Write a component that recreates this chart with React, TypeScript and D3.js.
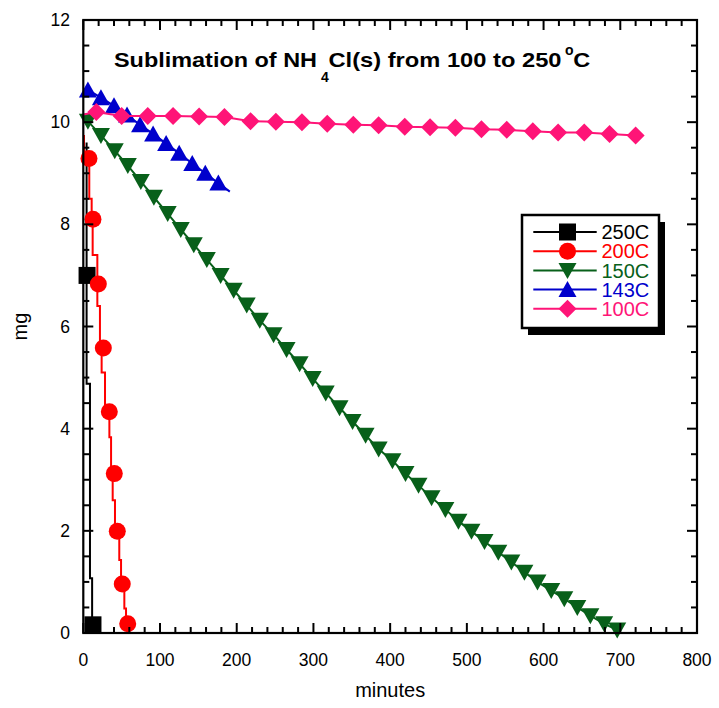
import React from 'react';
import * as d3 from 'd3';

// ---- data (minutes, mg) ----
const X_TICKS = [0, 100, 200, 300, 400, 500, 600, 700, 800];
const Y_TICKS = [0, 2, 4, 6, 8, 10, 12];
const SERIES_NAMES = ['250C', '200C', '150C', '143C', '100C'];

// 250C
const line250T = [4.3, 8.7, 11.5, 12.6];
const line250V = [9.6, 4.88, 1.07, 0.16];
const mark250T = [4.9, 12.6];
const mark250V = [7.0, 0.16];

// 200C
const line200T = [0.9, 7.8, 10.9, 12.2, 18.3, 21.7, 23.9, 28.3, 34.0, 36.2, 38.3, 41.3, 46.9, 49.2, 53.5, 55.7, 57.0];
const line200V = [9.75, 9.35, 8.5, 8.1, 7.4, 6.4, 5.58, 5.1, 4.33, 3.83, 3.12, 2.6, 1.99, 1.43, 0.96, 0.48, 0.18];
const mark200T = [7.4, 12.6, 19.6, 26.1, 33.9, 40.4, 44.3, 50.8, 57.9];
const mark200V = [9.29, 8.1, 6.83, 5.58, 4.33, 3.12, 1.99, 0.96, 0.18];

// 150C
const mark150T = [6, 23, 41, 58, 75, 92, 110, 127, 144, 161, 179, 196, 213, 230, 248, 265, 282, 299, 316, 334, 351, 368, 385, 403, 420, 437, 454, 472, 489, 506, 523, 541, 558, 575, 592, 610, 627, 644, 661, 679, 696];
const mark150V = [10.02, 9.74, 9.44, 9.15, 8.84, 8.53, 8.21, 7.9, 7.6, 7.31, 7.0, 6.71, 6.42, 6.12, 5.84, 5.55, 5.27, 4.98, 4.7, 4.41, 4.14, 3.87, 3.6, 3.37, 3.12, 2.89, 2.65, 2.42, 2.19, 1.99, 1.79, 1.58, 1.39, 1.19, 1.0, 0.83, 0.67, 0.5, 0.34, 0.18, 0.06];
const line150Start = [0, 10.08];

// 143C
const mark143T = [6, 23, 40, 57, 74, 91, 108, 125, 142, 159, 176];
const mark143V = [10.63, 10.48, 10.32, 10.14, 9.95, 9.77, 9.58, 9.39, 9.19, 9.0, 8.81];
const line143End = [191, 8.64];

// 100C
const mark100T = [17, 50, 84, 117, 151, 184, 218, 251, 285, 318, 352, 385, 419, 452, 485, 519, 552, 586, 619, 653, 686, 720];
const mark100V = [10.2, 10.12, 10.12, 10.12, 10.11, 10.1, 10.02, 10.01, 10.0, 9.97, 9.95, 9.94, 9.91, 9.9, 9.89, 9.86, 9.85, 9.82, 9.8, 9.8, 9.77, 9.74];
const line100Start = [0, 10.15];

const zip = (t: number[], v: number[]) => t.map((d, i) => [d, v[i]] as [number, number]);

const series = [
  { name: SERIES_NAMES[0], color: '#000000', marker: 'square', line: zip(line250T, line250V), marks: zip(mark250T, mark250V), step: true },
  { name: SERIES_NAMES[1], color: '#ff0000', marker: 'circle', line: zip(line200T, line200V), marks: zip(mark200T, mark200V), step: true },
  { name: SERIES_NAMES[2], color: '#08601a', marker: 'triDown', line: [line150Start as [number, number], ...zip(mark150T, mark150V)], marks: zip(mark150T, mark150V), step: false },
  { name: SERIES_NAMES[3], color: '#0000cc', marker: 'triUp', line: [...zip(mark143T, mark143V), line143End as [number, number]], marks: zip(mark143T, mark143V), step: false },
  { name: SERIES_NAMES[4], color: '#ff1477', marker: 'diamond', line: [line100Start as [number, number], ...zip(mark100T, mark100V)], marks: zip(mark100T, mark100V), step: false },
];

const W = 719, H = 708;
const L = 83.3, R = 697, T = 20, B = 633;
const x = d3.scaleLinear().domain([0, 800]).range([L, R]);
const y = d3.scaleLinear().domain([0, 12]).range([B, T]);

function Marker({ type, cx, cy, color }: { type: string; cx: number; cy: number; color: string }) {
  const s = 8.5;
  if (type === 'square') return <rect x={cx - s} y={cy - s} width={2 * s} height={2 * s} fill={color} />;
  if (type === 'circle') return <circle cx={cx} cy={cy} r={s} fill={color} />;
  if (type === 'triDown') return <path d={`M${cx - 9},${cy - 7.5}L${cx + 9},${cy - 7.5}L${cx},${cy + 8.5}Z`} fill={color} />;
  if (type === 'triUp') return <path d={`M${cx},${cy - 8.5}L${cx + 9},${cy + 7.5}L${cx - 9},${cy + 7.5}Z`} fill={color} />;
  return <path d={`M${cx},${cy - 9}L${cx + 9},${cy}L${cx},${cy + 9}L${cx - 9},${cy}Z`} fill={color} />;
}

export default function App() {
  const font = 'Liberation Sans, Arial, Helvetica, sans-serif';
  const xMinor = d3.range(0, 801, 20);
  const yMinor = d3.range(0, 12.01, 0.5);
  const isMajorX = (v: number) => v % 100 === 0;
  const isMajorY = (v: number) => Math.abs(v % 2) < 1e-6;

  const legX0 = 522, legY0 = 215, legW = 137, legH = 113;
  const rowY = (i: number) => 232 + i * 19.2;

  return (
    <svg width={W} height={H} style={{ position: 'absolute', left: 0, top: 0, background: '#fff' }} fontFamily={font}>
      <rect x={0} y={0} width={W} height={H} fill="#fff" />
      {/* series */}
      {series.map((s) => {
        const gen = d3.line<[number, number]>().x((d) => x(d[0])).y((d) => y(d[1])).curve(s.step ? d3.curveStepBefore : d3.curveLinear);
        return (
          <g key={s.name}>
            <path d={gen(s.line) || ''} fill="none" stroke={s.color} strokeWidth={2} />
            {s.marks.map((d, i) => (
              <Marker key={i} type={s.marker} cx={x(d[0])} cy={y(d[1])} color={s.color} />
            ))}
          </g>
        );
      })}

      {/* ticks */}
      {xMinor.map((v) => {
        const len = isMajorX(v) ? 10 : 6;
        return (
          <g key={'xt' + v} stroke="#000" strokeWidth={2}>
            <line x1={x(v)} x2={x(v)} y1={B} y2={B - len} />
            <line x1={x(v)} x2={x(v)} y1={T} y2={T + len} />
          </g>
        );
      })}
      {yMinor.map((v) => {
        const len = isMajorY(v) ? 10 : 6;
        return (
          <g key={'yt' + v} stroke="#000" strokeWidth={2}>
            <line x1={L} x2={L + len} y1={y(v)} y2={y(v)} />
            <line x1={R} x2={R - len} y1={y(v)} y2={y(v)} />
          </g>
        );
      })}
      <rect x={L} y={T} width={R - L} height={B - T} fill="none" stroke="#000" strokeWidth={2.2} />

      {/* tick labels */}
      {X_TICKS.map((v) => (
        <text key={'xl' + v} x={x(v)} y={666} textAnchor="middle" fontSize={17.5} fill="#000">{v}</text>
      ))}
      {Y_TICKS.map((v) => (
        <text key={'yl' + v} x={70} y={y(v) + 6} textAnchor="end" fontSize={17.5} fill="#000">{v}</text>
      ))}

      {/* axis titles */}
      <text x={(L + R) / 2} y={697} textAnchor="middle" fontSize={20} fill="#000">minutes</text>
      <text transform={`translate(27,${(T + B) / 2}) rotate(-90)`} textAnchor="middle" fontSize={20} fill="#000">mg</text>

      {/* title */}
      <g fontWeight="bold" fill="#000">
        <text x={114} y={67.3} fontSize={21} textLength={203} lengthAdjust="spacingAndGlyphs">Sublimation of NH</text>
        <text x={321} y={81.7} fontSize={14}>4</text>
        <text x={328.5} y={67.3} fontSize={21} textLength={233} lengthAdjust="spacingAndGlyphs">Cl(s) from 100 to 250</text>
        <text x={565} y={55} fontSize={14}>o</text>
        <text x={573.3} y={67.3} fontSize={21} textLength={17} lengthAdjust="spacingAndGlyphs">C</text>
      </g>

      {/* legend */}
      <rect x={legX0 + 6} y={legY0 + 7} width={legW} height={legH} fill="#000" />
      <rect x={legX0} y={legY0} width={legW} height={legH} fill="#fff" stroke="#000" strokeWidth={2.5} />
      {series.map((s, i) => (
        <g key={'lg' + s.name}>
          <line x1={533.3} x2={596.7} y1={rowY(i)} y2={rowY(i)} stroke={s.color} strokeWidth={2} />
          <Marker type={s.marker} cx={567.5} cy={rowY(i)} color={s.color} />
          <text x={601.5} y={rowY(i) + 7.2} fontSize={20} fill={s.color}>{s.name}</text>
        </g>
      ))}
    </svg>
  );
}
